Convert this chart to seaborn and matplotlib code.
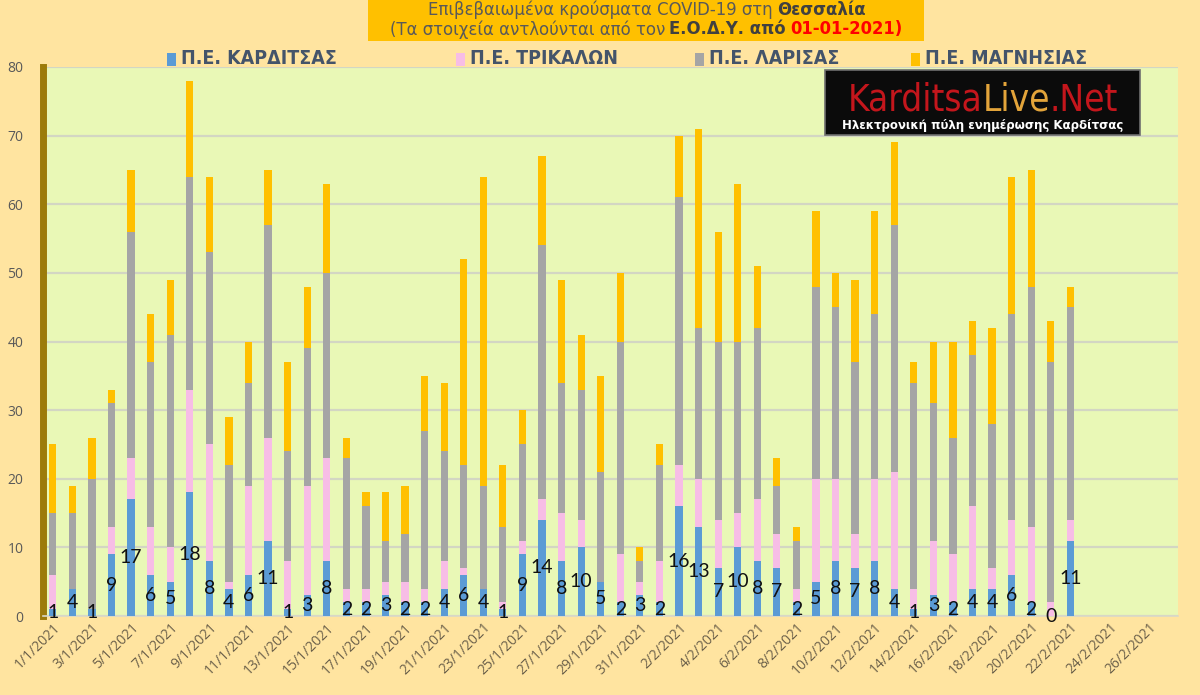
import matplotlib
matplotlib.use("Agg")
import matplotlib.pyplot as plt
import seaborn as sns
import numpy as np
import pandas as pd
from matplotlib import font_manager
from matplotlib.patches import Rectangle

# ---------------- data ----------------
series_names = ["Π.Ε. ΚΑΡΔΙΤΣΑΣ", "Π.Ε. ΤΡΙΚΑΛΩΝ", "Π.Ε. ΛΑΡΙΣΑΣ", "Π.Ε. ΜΑΓΝΗΣΙΑΣ"]
karditsa = [1, 4, 1, 9, 17, 6, 5, 18, 8, 4, 6, 11, 1, 3, 8, 2, 2, 3,
            2, 2, 4, 6, 4, 1, 9, 14, 8, 10, 5, 2, 3,
            2, 16, 13, 7, 10, 8, 7, 2, 5, 8, 7, 8, 4, 1, 3, 2, 4, 4, 6, 2, 0, 11]
trikala = [5, 0, 0, 4, 6, 7, 5, 15, 17, 1, 13, 15, 7, 16, 15, 2, 2, 2,
           3, 2, 4, 1, 0, 1, 2, 3, 7, 4, 0, 7, 2,
           6, 6, 7, 7, 5, 9, 5, 2, 15, 12, 5, 12, 17, 3, 8, 7, 12, 3, 8, 11, 2, 3]
larisa = [9, 11, 19, 18, 33, 24, 31, 31, 28, 17, 15, 31, 16, 20, 27, 19, 12, 6,
          7, 23, 16, 15, 15, 11, 14, 37, 19, 19, 16, 31, 3,
          14, 39, 22, 26, 25, 25, 7, 7, 28, 25, 25, 24, 36, 30, 20, 17, 22, 21, 30, 35, 35, 31]
magnisia = [10, 4, 6, 2, 9, 7, 8, 14, 11, 7, 6, 8, 13, 9, 13, 3, 2, 7,
            7, 8, 10, 30, 45, 9, 5, 13, 15, 8, 14, 10, 2,
            3, 9, 29, 16, 23, 9, 4, 2, 11, 5, 12, 15, 12, 3, 9, 14, 5, 14, 20, 17, 6, 3]
date_labels = [f"{d.day}/{d.month}/{d.year}" for d in pd.date_range("2021-01-01", "2021-02-27")]
y_ticks = [0, 10, 20, 30, 40, 50, 60, 70, 80]

colors = ["#5B9BD5", "#F7BDE6", "#A5A5A5", "#FFC000"]

# ---------------- fonts ----------------
sns.set_theme(style="white")


def available(name):
    try:
        font_manager.findfont(font_manager.FontProperties(family=name), fallback_to_default=False)
        return True
    except Exception:
        return False


NARROW = "Liberation Sans Narrow" if available("Liberation Sans Narrow") else "DejaVu Sans"
plt.rcParams["font.family"] = ["Open Sans", "DejaVu Sans"]

W, H = 1200, 695
fig = plt.figure(figsize=(W / 100, H / 100), dpi=100, facecolor="#FFE4A0")
ax = fig.add_axes([43 / W, 1 - 616 / H, (1178 - 43) / W, (616 - 67) / H])
ax.set_facecolor("#E9F8B6")

n = len(karditsa)
df = pd.DataFrame({"date": date_labels[:n], "K": karditsa, "T": trikala, "L": larisa, "M": magnisia})
df["c1"] = df["K"]
df["c2"] = df["c1"] + df["T"]
df["c3"] = df["c2"] + df["L"]
df["c4"] = df["c3"] + df["M"]

for col, color in [("c4", colors[3]), ("c3", colors[2]), ("c2", colors[1]), ("c1", colors[0])]:
    sns.barplot(data=df, x="date", y=col, order=date_labels, color=color, width=0.37,
                saturation=1, errorbar=None, ax=ax, linewidth=0, zorder=3)

# Karditsa value labels (centre of the blue segment)
for i, v in enumerate(karditsa):
    ax.text(i, v / 2, str(v), ha="center", va="center", fontsize=14,
            family=["Lato", "DejaVu Sans"], color="#111111", zorder=5)

ax.set_xlim(-0.5, len(date_labels) - 0.5)
ax.set_ylim(0, 80)
ax.set_yticks(y_ticks)
ax.set_yticklabels([str(t) for t in y_ticks], color="#595959", fontsize=10)
ax.set_xticks(range(0, len(date_labels), 2))
ax.set_xticklabels(date_labels[::2], rotation=45, ha="right", rotation_mode="anchor",
                   color="#6B604A", fontsize=10)
ax.tick_params(axis="y", length=0, pad=14)
ax.tick_params(axis="x", length=0, pad=3)
ax.set_xlabel("")
ax.set_ylabel("")
ax.yaxis.grid(True, color="#D3D6C3", linewidth=1.6, zorder=0)
ax.set_axisbelow(True)
for s in ["top", "right"]:
    ax.spines[s].set_visible(False)
ax.spines["bottom"].set_color("#D9D9C8")
ax.spines["bottom"].set_linewidth(1.2)
ax.spines["left"].set_color("#9C7B0A")
ax.spines["left"].set_linewidth(5)

renderer = fig.canvas.get_renderer()


def rich_line(pieces, xc, y, size, family, gap=4):
    """pieces: list of (text, color, weight); drawn centred at pixel xc, pixel y (from top)."""
    texts = []
    for s, c, w in pieces:
        t = fig.text(0, 1 - y / H, s, color=c, weight=w, fontsize=size, family=family,
                     va="center", ha="left", stretch="condensed")
        texts.append(t)
    widths = [t.get_window_extent(renderer).width for t in texts]
    total = sum(widths) + gap * (len(texts) - 1)
    x = xc - total / 2
    for t, w in zip(texts, widths):
        t.set_x(x / W)
        x += w + gap
    return texts


# title box
fig.patches.append(Rectangle((368 / W, 1 - 41 / H), (924 - 368) / W, 41 / H,
                             transform=fig.transFigure, facecolor="#FFC000", edgecolor="none"))
rich_line([("Επιβεβαιωμένα κρούσματα COVID-19 στη", "#595959", "normal"),
           ("Θεσσαλία", "#404040", "bold")], 647, 10, 13.2, [NARROW, "DejaVu Sans"])
rich_line([("(Τα στοιχεία αντλούνται από τον", "#595959", "normal"),
           ("Ε.Ο.Δ.Υ. από", "#404040", "bold"),
           ("01-01-2021)", "#FF0000", "bold")], 646, 29.5, 13.2, [NARROW, "DejaVu Sans"])

# legend
leg_x = [167, 456, 695, 911]
for name, col, x in zip(series_names, colors, leg_x):
    fig.patches.append(Rectangle((x / W, 1 - 66 / H), 9 / W, 13 / H,
                                 transform=fig.transFigure, facecolor=col, edgecolor="none"))
    fig.text((x + 14) / W, 1 - 59 / H, name, color="#44546A", fontsize=14, weight="bold",
             family=[NARROW, "DejaVu Sans"], stretch="condensed", va="center", ha="left")

# logo box
fig.patches.append(Rectangle((825 / W, 1 - 135 / H), (1140 - 825) / W, (135 - 70) / H,
                             transform=fig.transFigure, facecolor="#0B0B0B",
                             edgecolor="#6E6E6E", linewidth=1.2, zorder=10))
logo = rich_line([("Karditsa", "#C4161C", "normal"), ("Live", "#E3A43A", "normal"),
                  (".Net", "#C4161C", "normal")], 983, 100, 26.5, ["DejaVu Sans"], gap=0)
for t in logo:
    t.set_zorder(11)
st = fig.text(983 / W, 1 - 125 / H, "Ηλεκτρονική πύλη ενημέρωσης Καρδίτσας", color="white",
              fontsize=8.5, weight="bold", family=["DejaVu Sans"], ha="center", va="center",
              zorder=11)

fig.savefig("out.png", dpi=100, facecolor=fig.get_facecolor())
